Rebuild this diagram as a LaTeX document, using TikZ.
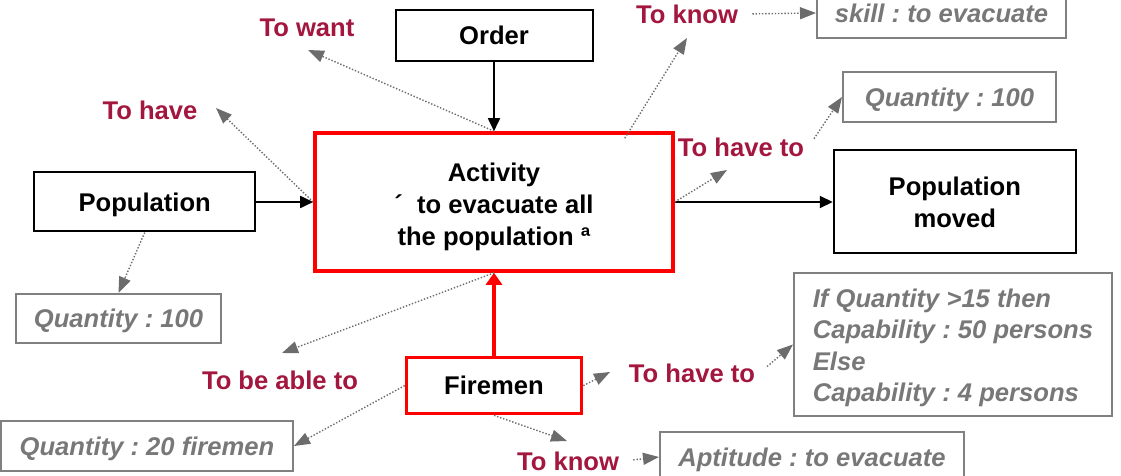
\documentclass[tikz,border=0pt]{standalone}
\usepackage{fontspec}
\setmainfont{Liberation Sans}
\frenchspacing
\usetikzlibrary{arrows.meta,positioning,calc}
\definecolor{Crimson}{HTML}{A3163D}
\definecolor{Slate}{HTML}{787878}
\definecolor{Frame}{HTML}{808080}
\definecolor{Dots}{HTML}{6C6C6C}

\begin{document}
\begin{tikzpicture}[x=0.5pt,y=-0.5pt,
        font=\fontsize{12.8}{16}\selectfont\bfseries,
        b/.style={draw,line width=1pt,inner sep=0pt,align=center},
        rb/.style={b,draw=red,line width=1.8pt},
        one/.style={text height=10.5pt,text depth=1.3pt},
        g/.style={draw=Frame,line width=1pt,inner sep=0pt,text=Slate,font=\fontsize{12.8}{15.7}\selectfont\bfseries\itshape},
        l/.style={one,text=Crimson,inner sep=2pt},
        a/.style={-{Triangle[length=6.5pt,width=6pt]},line width=0.9pt},
        d/.style={-{Triangle[length=8pt,width=6pt]},draw=Dots,line width=0.7pt,dash pattern=on 0.7pt off 0.9pt}]
        \useasboundingbox (0,0) rectangle (1121,476);
        % activity and what goes in and out
        \node[rb,minimum width=179pt,minimum height=69pt] (act) at (494,202) {\rule{0pt}{14pt}Activity\\´\ \ to evacuate all\\the population ª};
        \node[b,one,minimum width=98.5pt,minimum height=25.5pt,above=34.5pt of act] (order) {Order};
        \node[b,one,minimum width=110.5pt,minimum height=29.5pt,left=28.5pt of act] (pop) {Population};
        \node[b,minimum width=121pt,minimum height=51.5pt,right=79pt of act] (popm) {Population\\moved};
        \node[rb,one,minimum width=87.5pt,minimum height=28pt,below=41.5pt of act] (fire) {Firemen};
        % attribute boxes
        \node[g,one,minimum width=124.5pt,minimum height=25pt] (skill) at (941.5,13) {skill : to evacuate};
        \node[g,one,minimum width=106.5pt,minimum height=25pt] (q2) at (949.5,97) {Quantity : 100};
        \node[g,one,minimum width=102.5pt,minimum height=24.5pt] (q1) at (118.5,318.5) {Quantity : 100};
        \node[g,one,minimum width=146pt,minimum height=25pt] (q3) at (147,446) {Quantity : 20 firemen};
        \node[g,align=left,minimum width=159pt,minimum height=71.5pt] (ifbox) at (953,344.5) {\rule{0pt}{12.5pt}If Quantity >15 then\\Capability : 50 persons\\Else\\Capability : 4 persons};
        \node[g,one,minimum width=152pt,minimum height=25pt] (apt) at (812,457) {Aptitude : to evacuate};
        % relation labels
        \node[l] (lwant) at (307,27) {To want};
        \node[l] (lhave) at (150,110) {To have};
        \node[l] (lknow) at (687,14) {To know};
        \node[l] (lhaveto) at (741,147) {To have to};
        \node[l] (lable) at (280,380) {To be able to};
        \node[l] (lfhaveto) at (692,373) {To have to};
        \node[l] (lfknow) at (568,461) {To know};
        \coordinate (wantTip) at (308,50);
        \coordinate (haveTip) at (216,108);
        \coordinate (knowTip) at (687,38);
        \coordinate (havetoTip) at (727,170);
        \coordinate (ableTip) at (282,353);
        \coordinate (fhavetoTip) at (610,372);
        \coordinate (fknowTip) at (567,441);
        % flows
        \draw[a] (order)--(act); \draw[a] (pop)--(act); \draw[a] (act)--(popm);
        \draw[a,draw=red,line width=1.8pt,-{Triangle[length=6pt,width=8pt]}] (fire)--(act);
        % dotted relations
        \draw[d] (act.north)--(wantTip);
        \draw[d] (act.west)--(haveTip);
        \draw[d] ($(act.north east)+(-50,7)$)--(knowTip);
        \draw[d,shorten <=5pt] (lknow.east)--(skill.west);
        \draw[d] (act.east)--(havetoTip);
        \draw[d,shorten <=5pt] (lhaveto.east)--(q2.west);
        \draw[d] (pop.south)--(q1.north);
        \draw[d] (act.south)--(ableTip);
        \draw[d] (fire.west)--(q3.east);
        \draw[d] (fire.east)--(fhavetoTip);
        \draw[d,shorten <=5pt] (lfhaveto.east)--(ifbox.west);
        \draw[d] (fire.south)--(fknowTip);
        \draw[d,shorten <=5pt] (lfknow.east)--(apt.west);
\end{tikzpicture}
\end{document}
